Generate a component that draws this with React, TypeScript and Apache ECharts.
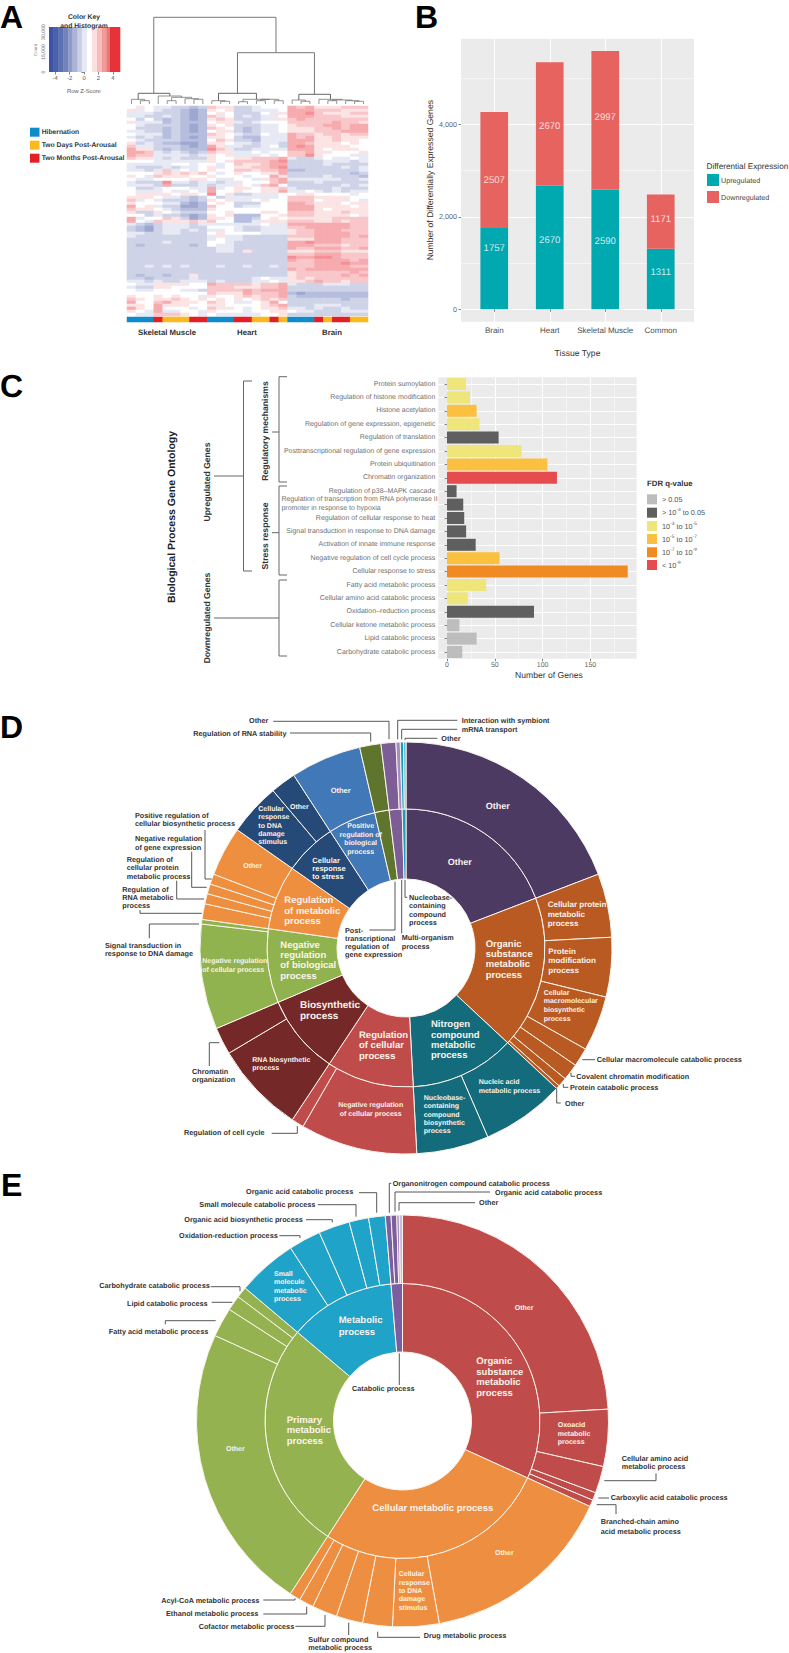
import React, { useEffect, useRef } from "react";
import * as echarts from "echarts";

const FONT = '"Liberation Sans", Arial, sans-serif';

/* ---------- Panel A data ---------- */
const heatRows = [
  "565 443 323 766 334 555 878 666 777","645 433 212 656 334 445 888 777 666","444 333 212 565 333 546 889 766 677",
  "443 343 212 745 343 465 888 777 666","535 323 212 676 333 446 787 777 777","644 423 222 566 434 555 777 778 776",
  "543 333 212 656 333 445 677 788 788","533 323 212 765 323 445 666 778 788","443 323 212 566 323 445 666 777 888",
  "544 423 222 765 433 544 877 677 677","434 323 212 665 322 444 878 667 666","543 333 222 576 332 444 888 667 665",
  "634 322 112 665 443 443 887 666 565","744 333 212 864 433 453 898 666 655","866 323 222 974 334 444 888 656 665",
  "887 434 323 766 445 455 778 665 556","877 444 434 656 444 545 779 655 544","766 434 333 655 667 778 433 454 454",
  "555 444 444 656 777 789 333 344 434","444 445 545 545 766 788 333 343 333","433 343 445 645 667 789 333 333 434",
  "443 474 545 655 776 778 223 333 334","555 676 767 545 655 668 333 333 323","654 766 655 655 545 586 333 343 332",
  "544 555 566 544 554 678 444 444 334","433 394 434 434 455 578 333 433 333","444 383 334 344 654 785 333 333 434",
  "533 455 544 845 665 667 433 334 333","544 454 454 855 655 668 445 434 344","566 665 665 956 334 445 566 555 545",
  "666 544 323 534 444 445 777 666 655","745 433 323 656 445 655 777 566 454","655 544 212 565 333 555 887 666 566",
  "856 433 112 755 344 555 888 666 656","766 543 222 655 555 555 888 656 666","633 654 333 556 555 665 777 666 766",
  "553 433 212 656 222 556 777 666 656","845 576 312 665 223 565 666 667 777","854 766 676 755 224 666 777 667 677",
  "432 344 434 444 444 544 888 888 877","321 344 433 555 433 444 778 888 877","321 344 343 445 433 444 677 888 777",
  "443 344 333 565 555 444 677 888 877","433 333 333 464 433 333 777 888 878","333 333 333 454 433 333 666 888 777",
  "333 343 333 554 333 333 889 888 777","323 333 323 544 333 333 888 777 677","333 333 333 344 333 333 877 888 778",
  "333 333 333 344 363 333 666 777 666","333 333 333 333 333 333 777 888 777","333 333 333 333 333 333 988 998 777",
  "333 333 333 333 333 333 877 888 878","333 333 333 333 333 333 777 888 988","334 343 433 343 343 343 777 888 877",
  "333 333 333 333 333 333 878 888 888","333 333 333 333 333 333 677 777 787","323 323 363 333 333 333 677 777 878",
  "332 333 343 333 334 544 676 777 777","443 433 444 343 334 454 667 877 677","544 666 655 877 776 778 433 344 433",
  "433 665 555 777 666 778 333 333 333","544 555 443 777 787 888 333 333 333","555 555 555 766 687 778 212 222 222",
  "655 656 554 655 676 778 322 222 222","765 667 656 565 656 767 333 333 233","855 786 665 765 445 685 333 333 333",
  "665 866 655 665 555 678 333 444 333","865 855 545 766 545 667 443 433 433","654 844 554 655 545 566 544 333 444",
  "544 777 654 544 444 556 333 333 333",
];
const sampleStates = ["Hibernation", "Two Days Post-Arousal", "Two Months Post-Arousal"];
const sampleStateByColumn = [0,0,0,2,1,1,1,2,2, 0,0,0,2,2,1,1,2,1, 0,0,0,2,1,2,2,1,1];
const tissueNames = ["Skeletal Muscle", "Heart", "Brain"];
const keyEdges = [-4.86,-4.3,-3.6,-2.9,-2.2,-1.6,-0.9,-0.3,0.4,1.1,1.8,2.5,3.1,3.6,5];
const keyColors = ["#3B54A4","#4A60AA","#5C70B2","#7282BC","#8E9BC9","#ABB4D7","#C9CEE5","#E6E8F3","#FFFFFF","#FBE0DF","#F6BDBC","#F19A99","#EC7779","#E8323A"];
const keyTicksX = [-4,-2,0,2,4];
const keyTicksY = [0,15000,30000];
// [left leaf, right leaf, left height, right height, join height]
const dendroMerges = [
  [1,2,0,0,3.3],[0,1.5,0,3.3,4.7],[4,5,0,0,3.3],[7,8,0,0,4.7],[6,7.5,0,4.7,5.3],[4.5,6.75,3.3,5.3,6.7],[3,5.6,0,6.7,8],[0.75,4.3,4.7,8,10.7],
  [10,11,0,0,2.7],[9,10.5,0,2.7,3.3],[12,13,0,0,2.3],[14,15,0,0,3.3],[16,17,0,0,3.3],[14.5,16.5,3.3,3.3,4.7],[12.5,15.5,2.3,4.7,4.7],[9.75,14,3.3,4.7,10.7],
  [19,20,0,0,2.7],[18,19.5,0,2.7,4],[22,23,0,0,3.3],[25,26,0,0,2.7],[24,25.5,0,2.7,3.3],[22.5,24.75,3.3,3.3,4],[21,23.6,0,4,4.7],[18.75,22.3,4,4.7,9.7],
  [11.875,20.5,10.7,9.7,51.3],[2.5,16.19,10.7,51.3,86.7],
];

/* ---------- Panel B data ---------- */
const tissueCategories = ["Brain", "Heart", "Skeletal Muscle", "Common"];
const upregulated = [1757, 2670, 2590, 1311];
const downregulated = [2507, 2670, 2997, 1171];
const upLabelHeights = [1304, 1483, 1462, 800];
const downLabelHeights = [2789, 3948, 4143, 1931];

/* ---------- Panel C data ---------- */
const goTerms = [
  "Protein sumoylation","Regulation of histone modification","Histone acetylation","Regulation of gene expression, epigenetic",
  "Regulation of translation","Posttranscriptional regulation of gene expression","Protein ubiquitination","Chromatin organization",
  "Regulation of p38\u2013MAPK cascade","Regulation of transcription from RNA polymerase II promoter in response to hypoxia",
  "Regulation of cellular response to heat","Signal transduction in response to DNA damage","Activation of innate immune response",
  "Negative regulation of cell cycle process","Cellular response to stress","Fatty acid metabolic process",
  "Cellular amino acid catabolic process","Oxidation\u2013reduction process","Cellular ketone metabolic process",
  "Lipid catabolic process","Carbohydrate catabolic process",
];
const goCounts = [20,24,31,34,54,78,105,115,10,17,18,20,30,55,189,41,22,91,13,31,16];
const goFdrTier = [2,2,3,2,1,2,3,5,1,1,1,1,1,3,4,2,2,1,0,0,0];
const fdrLabels = ["{n|> 0.05}","{n|> 10}{s|-3}{n| to 0.05}","{n|10}{s|-3}{n| to 10}{s|-5}","{n|10}{s|-5}{n| to 10}{s|-7}","{n|10}{s|-7}{n| to 10}{s|-9}","{n|< 10}{s|-9}"];
const fdrColors = ["#BDBDBD","#5F5F5F","#EEE67A","#FBC03F","#EF8B22","#E64B4F"];

/* ---------- Panel D data ---------- */
const dParents = ["Other","Organic substance metabolic process","Nitrogen compound metabolic process","Regulation of cellular process","Biosynthetic process","Negative regulation of biological process","Regulation of metabolic process","Cellular response to stress","Positive regulation of biological process","Post-transcriptional regulation of gene expression","Multi-organism process","Nucleobase-containing compound process"];
const dLeafNames = [
  ["Other"],
  ["Cellular protein metabolic process","Protein modification process","Cellular macromolecular biosynthetic process","Cellular macromolecule catabolic process","Covalent chromatin modification","Protein catabolic process","Other"],
  ["Nucleic acid metabolic process","Nucleobase-containing compound biosynthetic process"],
  ["Negative regulation of cellular process","Regulation of cell cycle"],
  ["RNA biosynthetic process","Chromatin organization"],
  ["Negative regulation of cellular process","Signal transduction in response to DNA damage"],
  ["Regulation of RNA metabolic process","Regulation of cellular protein metabolic process","Negative regulation of gene expression","Positive regulation of cellular biosynthetic process","Other"],
  ["Cellular response to DNA damage stimulus","Other"],
  ["Other"],
  ["Regulation of RNA stability"],
  ["Other","Interaction with symbiont"],
  ["mRNA transport","Other"],
];
const dLeafDegrees = [[69],[18,16.8,15.6,5.3,4.7,2.6,1],[23.6,20.4],[33,3.5],[25.8,7.7],[29.7,1.3],[4.4,2.9,2.8,2.9,14],[14.8,7.2],[20],[6],[4.2,1.2],[0.9,0.7]];
const dColors = ["#4D3A63","#B85A22","#136B7C","#C04B4B","#752828","#90B34F","#EE8E3F","#264A78","#4178B8","#5F752E","#7C5D96","#1B9BC0"];
const dLeafTints: any = { "10-1": "#A48BC0", "11-1": "#55C0DF" };

/* ---------- Panel E data ---------- */
const eParents = ["Organic substance metabolic process","Cellular metabolic process","Primary metabolic process","Metabolic process","Catabolic process"];
const eLeafNames = [
  ["Other","Oxoacid metabolic process","Cellular amino acid metabolic process","Carboxylic acid catabolic process","Branched-chain amino acid metabolic process"],
  ["Other","Cellular response to DNA damage stimulus","Drug metabolic process","Sulfur compound metabolic process","Cofactor metabolic process","Ethanol metabolic process","Acyl-CoA metabolic process"],
  ["Other","Fatty acid metabolic process","Lipid catabolic process","Carbohydrate catabolic process"],
  ["Small molecule metabolic process","Oxidation-reduction process","Organic acid biosynthetic process","Small molecule catabolic process","Organic acid catabolic process"],
  ["Organonitrogen compound catabolic process","Organic acid catabolic process","Other","Other"],
];
const eLeafDegrees = [[86.7,16.1,7.6,2.2,1.9],[55.2,13.1,8.4,7.5,7.1,4.1,3.1],[81.5,8.3,4.3,3.1],[16.9,9.1,8.8,5.5,4.7],[1.6,1.6,0.7,0.9]];
const eColors = ["#C04B4B","#EE8E40","#94B350","#20A3C8","#7B5EA0"];
const eLeafTints: any = { "4-2": "#A48BC0", "4-3": "#C9BBDD" };

/* ---------- Layout tables (annotation text and leaders) ---------- */
type Lab = [string, number, number, number, number?, string?];
const DARK = "#333333";
const CREAM = "#FBF3EA";
const darkLabels: Lab[] = [
  // D
  ["Other",249,720.3,8.4],["Regulation of RNA stability",193.3,733,8.4],["Interaction with symbiont",461.7,720.3,8.4],["mRNA transport",461.7,729.3,8.4],["Other",441.3,738.3,8.4],
  ["Positive regulation of\ncellular biosynthetic process",135,815.3,8.4],["Negative regulation\nof gene expression",135,838.7,8.4],
  ["Regulation of\ncellular protein\nmetabolic process",126.7,859.3,8.4],["Regulation of\nRNA metabolic\nprocess",122.3,889,8.4],
  ["Signal transduction in\nresponse to DNA damage",105,945,8.4],["Chromatin\norganization",192,1071,8.4],["Regulation of cell cycle",184,1132,8.4],
  ["Post-\ntranscriptional\nregulation of\ngene expression",345,930,8.1],["Multi-organism\nprocess",401.7,937.7,8.4],["Nucleobase-\ncontaining\ncompound\nprocess",409,897.3,8.4],
  ["Cellular macromolecule catabolic process",596.7,1059.7,8.4],["Covalent chromatin modification",576.3,1076.3,8.4],["Protein catabolic process",570,1087.3,8.4],["Other",565,1103,8.4],
  // E
  ["Organic acid catabolic process",246,1191,8.4],["Small molecule catabolic process",199.3,1204.7,8.4],["Organic acid biosynthetic process",184.3,1219.3,8.4],["Oxidation-reduction process",179,1235.3,8.4],
  ["Carbohydrate catabolic process",99.3,1285.7,8.4],["Lipid catabolic process",127,1303,8.4],["Fatty acid metabolic process",108.7,1331.3,8.4],
  ["Organonitrogen compound catabolic process",392.7,1183.3,8.4],["Organic acid catabolic process",495,1192.3,8.4],["Other",479,1202,8.4],
  ["Cellular amino acid\nmetabolic process",621.7,1458.3,8.4],["Carboxylic acid catabolic process",610.7,1497.7,8.4],["Branched-chain amino\nacid metabolic process",600.7,1522,9.3],
  ["Drug metabolic process",423.7,1635.7,8.4],["Sulfur compound\nmetabolic process",308.3,1639,8.4],["Cofactor metabolic process",198.7,1626.3,8.4],["Ethanol metabolic process",166,1613.7,8.4],["Acyl-CoA metabolic process",161.3,1600,8.4],
  ["Catabolic process",352,1388.7,8.4],
];
const innerLabels: Lab[] = [
  // D
  ["Regulation\nof metabolic\nprocess",284.3,900.7,10.5,9.5],["Negative\nregulation\nof biological\nprocess",280.3,945,10.4,9.5],["Biosynthetic\nprocess",300,1005.3,11.4,10],
  ["Regulation\nof cellular\nprocess",359,1035,10.5,9.5],["RNA biosynthetic\nprocess",252.3,1060.3,8.4,7],["Negative regulation\nof cellular process",202.3,962,8.4,7],
  ["Other",243.3,866.7,8,7],["Cellular\nresponse\nto DNA\ndamage\nstimulus",258.3,809.7,8.3,7],["Other",290,807,8,7],["Cellular\nresponse\nto stress",312.3,860,8.3,7.5],
  ["Other",330.7,790.3,8,7.5],["Other",485.7,806.3,10,9],["Other",447.7,862.3,10,9],["Organic\nsubstance\nmetabolic\nprocess",485.7,944,10.4,9.5],
  ["Cellular protein\nmetabolic\nprocess",547.7,904.7,9.5,8],["Protein\nmodification\nprocess",548.3,951.3,9.5,8],["Cellular\nmacromolecular\nbiosynthetic\nprocess",543.7,993.3,8.7,7],
  ["Nitrogen\ncompound\nmetabolic\nprocess",431,1024.7,10.4,9.5],["Nucleic acid\nmetabolic process",478.7,1083,8.4,7],["Nucleobase-\ncontaining\ncompound\nbiosynthetic\nprocess",423.7,1098.7,8.3,7],
  // E
  ["Small\nmolecule\nmetabolic\nprocess",274,1274.7,8.3,7],["Metabolic\nprocess",338.7,1321,11.3,9.5],["Primary\nmetabolic\nprocess",286.7,1420,10.6,9.5],["Other",226,1449.7,8,7],
  ["Organic\nsubstance\nmetabolic\nprocess",476.3,1361.7,10.5,9.5],["Other",514.7,1308.3,8,7],["Oxoacid\nmetabolic\nprocess",557.7,1426,8.3,7],["Cellular metabolic process",372.3,1508,10,9.5],
  ["Other",495,1553.7,8,7],["Cellular\nresponse\nto DNA\ndamage\nstimulus",398.7,1574.7,8.4,7],
];
const centeredInnerLabels: Lab[] = [
  ["Negative regulation\nof cellular process",370.7,1106,8.4,7],["Positive\nregulation of\nbiological\nprocess",360.7,827,8.4,7],
];
const leaders: number[][][] = [
  // D
  [[273.3,721.3],[389,721.3],[389,739.3]],[[290,733],[370.7,733],[370.7,741.7]],[[457.3,720.3],[397.7,720.3],[397.7,739.3]],[[457.3,729.3],[401.7,729.3],[401.7,739.3]],[[437.3,738.3],[405,738.3],[405,740]],
  [[205,830],[205,879],[211.7,879]],[[191.7,851.7],[191.7,887.3],[206.7,887.3]],[[176.7,880.7],[176.7,899],[204,899]],[[140,910],[140,913.3],[201.7,913.3]],
  [[149.3,938.3],[149.3,924],[199,924]],[[209.3,1066],[209.3,1042.7],[219.3,1042.7]],[[271.7,1133.3],[297.3,1133.3],[297.3,1126]],
  [[369.3,930],[395,930],[395,881.7]],[[401.7,933.3],[401.7,880]],[[405,880],[405,897.3],[407.3,897.3]],
  [[582.3,1059.7],[595,1059.7]],[[571,1072.7],[571,1076.3],[575,1076.3]],[[563.3,1084],[563.3,1087.3],[568.3,1087.3]],[[556.7,1088.3],[556.7,1103],[560.7,1103]],
  // E
  [[359,1192.7],[376.7,1192.7],[376.7,1212.7]],[[317.7,1204.7],[356,1204.7],[356,1216.7]],[[306,1219.7],[332.3,1219.7],[332.3,1222.3]],[[279.3,1235.7],[300,1235.7],[300,1238]],
  [[210.7,1286.7],[240,1286.7],[240,1291.3]],[[211.7,1302.3],[232.3,1302.3]],[[165.3,1324.3],[165.3,1320.7],[215.7,1320.7]],
  [[389.3,1212.7],[389.3,1183.3],[391.3,1183.3]],[[490,1192],[395,1192],[395,1211.7]],[[475,1202.7],[399,1202.7],[399,1210.7]],
  [[656,1473.3],[656,1480.7],[604.3,1480.7]],[[598.3,1498],[609,1498]],[[616,1514],[616,1504.7],[596.7,1504.7]],
  [[377.7,1631.7],[377.7,1637.3],[420,1637.3]],[[348.7,1622.7],[348.7,1635]],[[295.3,1626.3],[325,1626.3],[325,1615]],[[263.3,1614],[306.7,1614],[306.7,1606.7]],[[263.3,1600],[295,1600],[295,1598.3]],
  [[399.3,1353.3],[399.3,1385]],
];
const bracketsC: number[][][] = [
  [[214,476],[243.5,476]],[[252,381],[243.5,381],[243.5,571],[252,571]],
  [[287,376.7],[279,376.7],[279,482],[287,482]],[[272,432],[279,432]],
  [[287,486],[279,486],[279,575],[287,575]],[[272,532.7],[279,532.7]],
  [[214,618],[279,618]],[[287,580],[279,580],[279,656],[287,656]],
];

function text(t: string, x: number, y: number, size: number, opts: any = {}) {
  return {
    type: "text", x, y, z: 100, rotation: opts.rotation || 0, silent: true,
    style: {
      text: t, fontFamily: FONT, fontSize: size, fontWeight: opts.weight || "normal",
      fill: opts.color || DARK, textAlign: opts.align || "left", textVerticalAlign: opts.valign || "middle",
      lineHeight: opts.lineHeight, rich: opts.rich,
    },
  };
}
function labelEl(l: Lab, defaultSize: number, color: string, align = "left") {
  const [t, x, y, step, size] = l;
  return text(t, x, y - step / 2, size || defaultSize, { weight: "bold", color, align, valign: "top", lineHeight: step });
}
function line(points: number[][], stroke = "#444444", lineWidth = 0.9) {
  return { type: "polyline", z: 99, silent: true, shape: { points }, style: { stroke, lineWidth, fill: null } };
}
function sunburstData(parents: string[], leafNames: string[][], leafDeg: number[][], colors: string[], tints: any) {
  return parents.map((name, i) => ({
    name,
    itemStyle: { color: colors[i] },
    children: leafNames[i].map((n, j) => ({
      name: n, value: leafDeg[i][j],
      itemStyle: { color: tints[`${i}-${j}`] || colors[i] },
    })),
  }));
}
function sunburst(data: any[], center: number[], mid: number) {
  return {
    type: "sunburst", center, radius: [69, 206], sort: null, nodeClick: false, startAngle: 90, clockwise: true,
    data, label: { show: false }, emphasis: { disabled: true },
    itemStyle: { borderColor: "#FBF3EA", borderWidth: 1 },
    levels: [{}, { r0: 69, r: mid, label: { show: false } }, { r0: mid, r: 206, label: { show: false } }],
  };
}

const GRID_BG = "#EBEBEB";
const TICK_COLOR = "#666666";
const fdrRich = {
  n: { fontFamily: FONT, fontSize: 7.3, fill: "#555", lineHeight: 9, verticalAlign: "middle" },
  s: { fontFamily: FONT, fontSize: 4.8, fill: "#555", lineHeight: 9, verticalAlign: "top" },
};

export default function App() {
  const ref = useRef<HTMLDivElement>(null);
  useEffect(() => {
    document.body.style.margin = "0";
    const chart = echarts.init(ref.current!, null, { renderer: "svg" });

    const heatData: number[][] = [];
    heatRows.forEach((row, r) => {
      row.replace(/\s/g, "").split("").forEach((d, c) => heatData.push([c, r, (Number(d) - 5) * 0.5]));
    });
    const colIdx = sampleStateByColumn.map((_, i) => String(i));
    const rowIdx = heatRows.map((_, i) => String(i));

    const graphicEls: any[] = [
      // panel letters
      text("A", 0, 16.5, 32, { weight: "bold", color: "#000" }),
      text("B", 415, 17, 32, { weight: "bold", color: "#000" }),
      text("C", 0, 386, 32, { weight: "bold", color: "#000" }),
      text("D", 0, 727, 32, { weight: "bold", color: "#000" }),
      text("E", 1, 1185, 32, { weight: "bold", color: "#000" }),
      // A
      text("Color Key", 84, 17, 6.8, { weight: "bold", align: "center" }),
      text("and Histogram", 84, 26, 6.8, { weight: "bold", align: "center" }),
      text("Count", 35, 50, 4.5, { rotation: Math.PI / 2, align: "center", color: "#888" }),
      text("Row Z-Score", 84, 91.5, 5.8, { align: "center", color: "#555" }),
      ...tissueNames.map((t, i) => text(t, [167, 247, 332][i], 332, 7.8, { weight: "bold", align: "center" })),
      ...sampleStates.map((s, i) => text(s, 41.7, [132, 145.3, 158.3][i], 6.75, { weight: "bold" })),
      ...sampleStates.map((_, i) => ({
        type: "rect", z: 100, silent: true, shape: { x: 30, y: [127.7, 140.7, 153.7][i], width: 9.5, height: 9 },
        style: { fill: ["#0F8BC9", "#F8BA1E", "#E21F26"][i] },
      })),
      // B legend title
      text("Differential Expression", 706.5, 166, 8.2, { color: "#333" }),
      // C
      text("Biological Process Gene Ontology", 172, 517, 10.5, { weight: "bold", rotation: Math.PI / 2, align: "center", color: "#222" }),
      text("Upregulated Genes", 207, 482, 8.6, { weight: "bold", rotation: Math.PI / 2, align: "center" }),
      text("Downregulated Genes", 207, 618, 8.6, { weight: "bold", rotation: Math.PI / 2, align: "center" }),
      text("Regulatory mechanisms", 265, 431, 8.6, { weight: "bold", rotation: Math.PI / 2, align: "center" }),
      text("Stress response", 265, 536, 8.6, { weight: "bold", rotation: Math.PI / 2, align: "center" }),
      text("Regulation of transcription from RNA polymerase II\npromoter in response to hypoxia", 281.5, 495.8, 6.95, { color: "#707070", valign: "top", lineHeight: 8.3 }),
      text("Number of Genes", 549, 675, 8.6, { align: "center", color: "#333" }),
      text("FDR q-value", 647, 483, 7.8, { weight: "bold", color: "#333" }),
      ...fdrLabels.map((l, i) => text(l, 662, [499.3, 512.7, 526, 539, 552.3, 565][i], 7.3, { color: "#555", rich: fdrRich })),
      ...fdrColors.map((c, i) => ({
        type: "rect", z: 100, silent: true, shape: { x: 647, y: [494.3, 507.7, 521, 534, 547.3, 560][i], width: 10, height: 10 },
        style: { fill: c },
      })),
      ...bracketsC.map((p) => line(p, "#666666", 1)),
      // D and E
      ...leaders.map((p) => line(p)),
      ...darkLabels.map((l) => labelEl(l, 7.25, DARK)),
      ...innerLabels.map((l) => labelEl(l, 7, CREAM)),
      ...centeredInnerLabels.map((l) => labelEl(l, 7, CREAM, "center")),
    ];

    const noAxis = { axisLine: { show: false }, axisTick: { show: false }, axisLabel: { show: false }, splitLine: { show: false } };
    const hiddenValue = (gridIndex: number, min: number, max: number, extra: any = {}) => ({ type: "value", gridIndex, min, max, show: false, ...noAxis, ...extra });
    const thinTick = { show: true, length: 2.5, lineStyle: { color: TICK_COLOR, width: 0.8 } };

    chart.setOption({
      animation: false,
      backgroundColor: "#fff",
      textStyle: { fontFamily: FONT },
      grid: [
        { left: 49, top: 27, width: 71, height: 45 },
        { left: 127, top: 17.3, width: 241, height: 86.7 },
        { left: 127, top: 106, width: 241, height: 210 },
        { left: 127, top: 317, width: 241, height: 5 },
        { left: 461, top: 38.7, width: 233, height: 283, show: true, backgroundColor: GRID_BG, borderWidth: 0 },
        { left: 438.3, top: 377.3, width: 198.4, height: 281.4, show: true, backgroundColor: GRID_BG, borderWidth: 0 },
        // the four bands of panel B sit inside its plot area, with ggplot's expansion on each side
        { left: 466.5, top: 38.7, width: 222, height: 283 },
      ],
      xAxis: [
        {
          type: "value", gridIndex: 0, min: -4.86, max: 5, splitLine: { show: false }, axisLine: { show: false },
          axisTick: { ...thinTick, customValues: keyTicksX }, axisLabel: { customValues: keyTicksX, fontSize: 5.8, color: "#555", margin: 4 },
        },
        hiddenValue(1, -0.5, 26.5),
        { type: "category", gridIndex: 2, data: colIdx, show: false },
        { type: "category", gridIndex: 3, data: colIdx, show: false },
        hiddenValue(4, 0, 1),
        {
          type: "value", gridIndex: 5, min: -9.1, max: 198.4, axisLine: { show: false },
          splitLine: { show: true, lineStyle: { color: "#fff", width: 1 } },
          axisTick: { ...thinTick, customValues: [0, 50, 100, 150] },
          axisLabel: { customValues: [0, 50, 100, 150], fontSize: 7, color: "#666", margin: 3 },
        },
        {
          type: "value", gridIndex: 5, min: -9.1, max: 198.4, axisLine: { show: false }, axisLabel: { show: false },
          axisTick: { show: false, customValues: [25, 75, 125, 175] },
          splitLine: { show: true, lineStyle: { color: "#fff", width: 0.5 } },
        },
        {
          type: "category", gridIndex: 6, data: tissueCategories, axisLine: { show: false },
          splitLine: { show: true, alignWithLabel: true, lineStyle: { color: "#fff", width: 1 } },
          axisTick: { ...thinTick, alignWithLabel: true },
          axisLabel: { interval: 0, fontSize: 8, color: "#4D4D4D", margin: 5 },
          name: "Tissue Type", nameLocation: "middle", nameGap: 27, nameTextStyle: { fontSize: 8.6, color: "#333" },
        },
      ],
      yAxis: [
        {
          type: "value", gridIndex: 0, min: 0, max: 33750, splitLine: { show: false }, axisLine: { show: false },
          axisTick: { ...thinTick, customValues: keyTicksY },
          axisLabel: { customValues: keyTicksY, fontSize: 5.2, color: "#666", margin: 3, rotate: 90 },
        },
        hiddenValue(1, 0, 86.7),
        { type: "category", gridIndex: 2, data: rowIdx, inverse: true, show: false },
        { type: "category", gridIndex: 3, data: ["state"], show: false },
        {
          type: "value", gridIndex: 4, min: -268, max: 5851, axisLine: { show: false },
          splitLine: { show: true, lineStyle: { color: "#fff", width: 1 } },
          axisTick: { ...thinTick, customValues: [0, 2000, 4000] },
          axisLabel: { customValues: [0, 2000, 4000], fontSize: 7.2, color: "#666", margin: 4 },
          name: "Number of Differentially Expressed Genes", nameLocation: "middle", nameGap: 27, nameTextStyle: { fontSize: 8.6, color: "#333" },
        },
        {
          type: "value", gridIndex: 4, min: -268, max: 5851, axisLine: { show: false }, axisLabel: { show: false },
          axisTick: { show: false, customValues: [1000, 3000, 5000] },
          splitLine: { show: true, lineStyle: { color: "#fff", width: 0.5 } },
        },
        {
          type: "category", gridIndex: 5, data: goTerms, inverse: true, axisLine: { show: false },
          axisTick: { ...thinTick, alignWithLabel: true },
          splitLine: { show: true, alignWithLabel: true, lineStyle: { color: "#fff", width: 1 } },
          axisLabel: {
            interval: 0, fontSize: 7, color: "#707070", margin: 3,
            formatter: (v: string) => (v.length > 60 ? "" : v),
          },
        },
        hiddenValue(6, -268, 5851),
      ],
      visualMap: [
        { type: "continuous", show: false, min: -4, max: 4, seriesIndex: 2, inRange: { color: ["#3B50A3", "#FFFFFF", "#E8202A"] } },
        {
          type: "piecewise", show: false, seriesIndex: 3, dimension: 2,
          pieces: [{ value: 0, color: "#0F8BC9" }, { value: 1, color: "#F8BA1E" }, { value: 2, color: "#E21F26" }],
        },
      ],
      legend: {
        data: ["Upregulated", "Downregulated"], orient: "vertical", left: 707, top: 174, padding: 0,
        itemWidth: 12, itemHeight: 12, itemGap: 5, icon: "rect", selectedMode: false,
        textStyle: { fontSize: 7.2, color: "#444", padding: [0, 0, 0, -3] },
      },
      series: [
        {
          type: "custom", xAxisIndex: 0, yAxisIndex: 0, silent: true,
          data: keyColors.map((_, i) => [keyEdges[i], keyEdges[i + 1], i]),
          encode: { x: [0, 1] },
          renderItem: (_: any, api: any) => {
            const a = api.coord([api.value(0), 33750]);
            const b = api.coord([api.value(1), 0]);
            return { type: "rect", shape: { x: a[0], y: a[1], width: b[0] - a[0] + 0.3, height: b[1] - a[1] }, style: { fill: keyColors[api.value(2)] } };
          },
        },
        {
          type: "custom", xAxisIndex: 1, yAxisIndex: 1, silent: true, clip: false,
          data: dendroMerges,
          encode: { x: [0, 1], y: [2, 3, 4] },
          renderItem: (_: any, api: any) => {
            const [xl, xr, hl, hr, top] = [0, 1, 2, 3, 4].map((d) => api.value(d));
            return {
              type: "polyline",
              shape: { points: [api.coord([xl, hl]), api.coord([xl, top]), api.coord([xr, top]), api.coord([xr, hr])] },
              style: { stroke: top > 20 ? "#777777" : "#666666", lineWidth: top > 9 ? 1 : 0.7, fill: null },
            };
          },
        },
        { type: "heatmap", xAxisIndex: 2, yAxisIndex: 2, data: heatData, silent: true, progressive: 0 },
        { type: "heatmap", xAxisIndex: 3, yAxisIndex: 3, data: sampleStateByColumn.map((s, i) => [i, 0, s]), silent: true },
        {
          name: "Upregulated", type: "bar", stack: "de", xAxisIndex: 7, yAxisIndex: 7, barWidth: 27.7,
          data: upregulated, itemStyle: { color: "#00A8B0" }, silent: true,
        },
        {
          name: "Downregulated", type: "bar", stack: "de", xAxisIndex: 7, yAxisIndex: 7, barWidth: 27.7,
          data: downregulated, itemStyle: { color: "#E7635F" }, silent: true,
        },
        {
          type: "scatter", xAxisIndex: 7, yAxisIndex: 7, symbolSize: 0, silent: true, z: 5,
          data: [
            ...upregulated.map((v, i) => [i, upLabelHeights[i], v]),
            ...downregulated.map((v, i) => [i, downLabelHeights[i], v]),
          ],
          label: { show: true, position: "inside", color: "#FFFFFF", fontSize: 9.6, formatter: (p: any) => String(p.value[2]) },
        },
        {
          type: "bar", xAxisIndex: 5, yAxisIndex: 6, barWidth: 12, silent: true,
          data: goCounts.map((v, i) => ({ value: v, itemStyle: { color: fdrColors[goFdrTier[i]] } })),
        },
        sunburst(sunburstData(dParents, dLeafNames, dLeafDegrees, dColors, dLeafTints), [406, 948], 139),
        sunburst(sunburstData(eParents, eLeafNames, eLeafDegrees, eColors, eLeafTints), [402.5, 1421], 137.5),
      ],
      graphic: { elements: graphicEls },
    });
    return () => chart.dispose();
  }, []);
  return <div ref={ref} style={{ width: 789, height: 1653, textRendering: "geometricPrecision" }} />;
}
